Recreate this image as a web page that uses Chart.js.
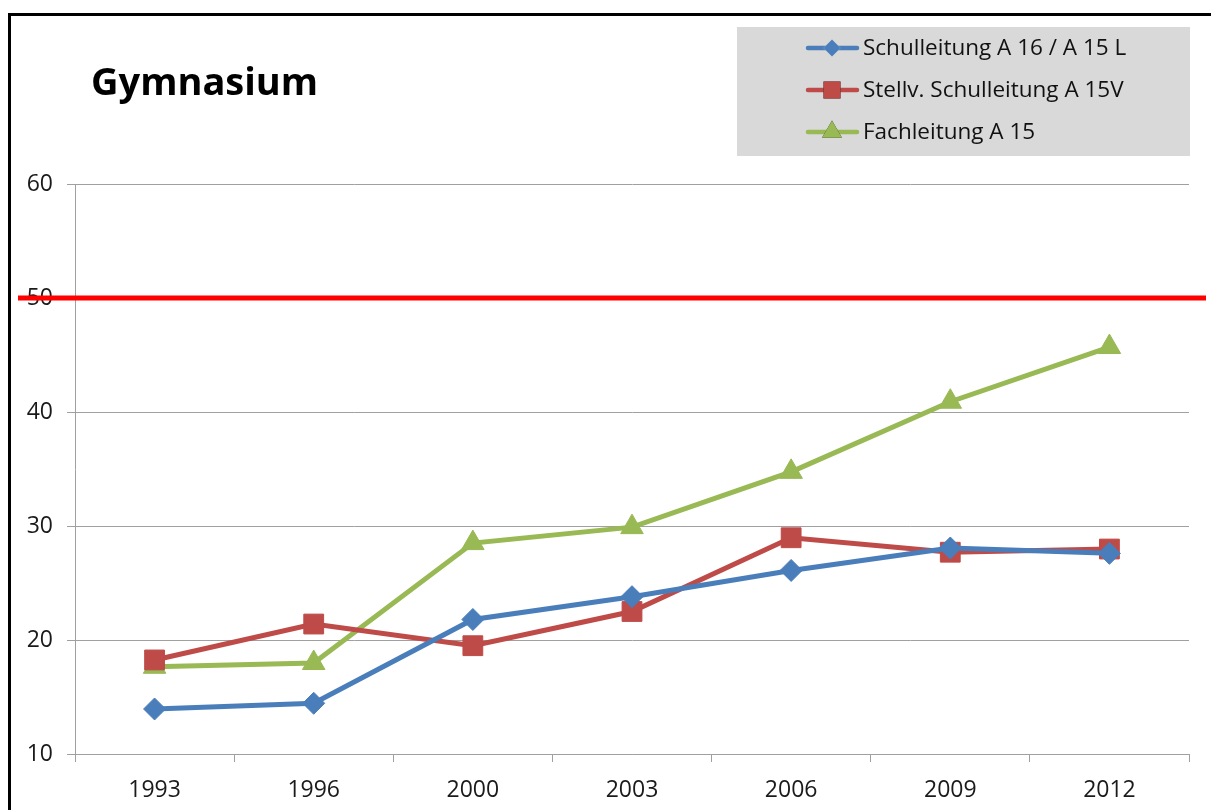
<!DOCTYPE html>
<html>
<head>
<meta charset="utf-8">
<script src="https://cdn.jsdelivr.net/npm/chart.js@4/dist/chart.umd.min.js"></script>
<style>
  html, body { margin: 0; padding: 0; background: #ffffff; }
  #wrap { position: relative; width: 1211px; height: 810px; }
  canvas { display: block; }
</style>
</head>
<body>
<div id="wrap"><canvas id="chart" width="1211" height="810"></canvas></div>
<script>
// Survey years on the category axis
const years = ['1993', '1996', '2000', '2003', '2006', '2009', '2012'];

// Share per leadership position (percent)
const schulleitung = [13.95, 14.45, 21.8, 23.8, 26.1, 28.07, 27.6];
const stellvSchulleitung = [18.25, 21.4, 19.5, 22.5, 28.97, 27.7, 27.98];
const fachleitung = [17.65, 17.98, 28.5, 29.9, 34.75, 40.9, 45.7];

// Series names
const seriesNames = ['Schulleitung A 16 / A 15 L', 'Stellv. Schulleitung A 15V', 'Fachleitung A 15'];

// Value axis range and step
const yMin = 10;
const yMax = 60;
const yStep = 10;

// Reference mark drawn across the plot
const thresholdValue = 50;

const chartTitle = 'Gymnasium';

const FONT = "'Open Sans', 'Noto Sans', sans-serif";
const BLUE = '#4a7ebb';
const RED = '#be4b48';
const GREEN = '#98b954';

// Frame, heading, threshold line and legend box
const decorations = {
  id: 'decorations',
  afterDraw(chart) {
    const ctx = chart.ctx;
    const y = chart.scales.y;
    ctx.save();

    // outer frame (top and left edges)
    ctx.strokeStyle = '#000000';
    ctx.lineWidth = 3;
    ctx.beginPath();
    ctx.moveTo(9.5, 812);
    ctx.lineTo(9.5, 14.5);
    ctx.lineTo(1215, 14.5);
    ctx.stroke();

    // heading
    ctx.fillStyle = '#000000';
    ctx.font = 'bold 38px ' + FONT;
    ctx.textBaseline = 'alphabetic';
    ctx.textAlign = 'left';
    ctx.fillText(chartTitle, 91, 95);

    // threshold line
    const ty = y.getPixelForValue(thresholdValue);
    ctx.strokeStyle = '#ff0000';
    ctx.lineWidth = 5;
    ctx.beginPath();
    ctx.moveTo(18, ty);
    ctx.lineTo(1206, ty);
    ctx.stroke();

    // legend box
    ctx.fillStyle = '#d9d9d9';
    ctx.fillRect(737, 27, 453, 129);
    const rows = [48, 90, 132];
    chart.data.datasets.forEach((ds, i) => {
      const ry = rows[i];
      ctx.strokeStyle = ds.borderColor;
      ctx.lineWidth = 4.5;
      ctx.lineCap = 'round';
      ctx.beginPath();
      ctx.moveTo(808, ry);
      ctx.lineTo(857, ry);
      ctx.stroke();
      Chart.helpers.drawPoint(ctx, {
        pointStyle: ds.pointStyle,
        radius: ds.legendRadius,
        borderWidth: 0
      }, 832, ry);
      ctx.fillStyle = ds.backgroundColor;
      ctx.fill();
      ctx.fillStyle = '#111111';
      ctx.font = '22.5px ' + FONT;
      ctx.textBaseline = 'middle';
      ctx.fillText(ds.label, 863, ry + 1);
    });
    ctx.restore();
  }
};

function series(label, data, color, style, radius, legendRadius) {
  return {
    label: label,
    data: data,
    borderColor: color,
    backgroundColor: color,
    borderWidth: 5,
    pointStyle: style,
    pointRadius: radius,
    pointHoverRadius: radius,
    pointBorderWidth: 1,
    pointBorderColor: color,
    pointBackgroundColor: color,
    legendRadius: legendRadius,
    tension: 0
  };
}

new Chart(document.getElementById('chart'), {
  type: 'line',
  data: {
    labels: years,
    datasets: [
      series(seriesNames[0], schulleitung, BLUE, 'rectRot', 11, 8.5),
      series(seriesNames[1], stellvSchulleitung, RED, 'rect', 14, 12),
      series(seriesNames[2], fachleitung, GREEN, 'triangle', 13, 11.5)
    ]
  },
  plugins: [decorations],
  options: {
    responsive: false,
    animation: false,
    layout: { padding: { top: 184, right: 22, left: 0, bottom: 0 } },
    plugins: {
      legend: { display: false },
      title: { display: false },
      tooltip: { enabled: false }
    },
    scales: {
      x: {
        offset: true,
        grid: {
          offset: true,
          drawOnChartArea: false,
          drawTicks: true,
          tickLength: 8,
          color: '#a0a0a0',
          lineWidth: 1
        },
        border: { display: true, color: '#a0a0a0', width: 1 },
        ticks: {
          color: '#1a1a1a',
          font: { family: FONT, size: 23 },
          padding: 15,
          maxRotation: 0
        },
        afterFit(scale) { scale.height = 56; }
      },
      y: {
        min: yMin,
        max: yMax,
        grid: {
          color: '#a0a0a0',
          lineWidth: 1,
          tickLength: 8
        },
        border: { display: true, color: '#a0a0a0', width: 1 },
        ticks: {
          stepSize: yStep,
          color: '#1a1a1a',
          font: { family: FONT, size: 23 },
          padding: 14
        },
        afterFit(scale) { scale.width = 75; }
      }
    }
  }
});
</script>
</body>
</html>
